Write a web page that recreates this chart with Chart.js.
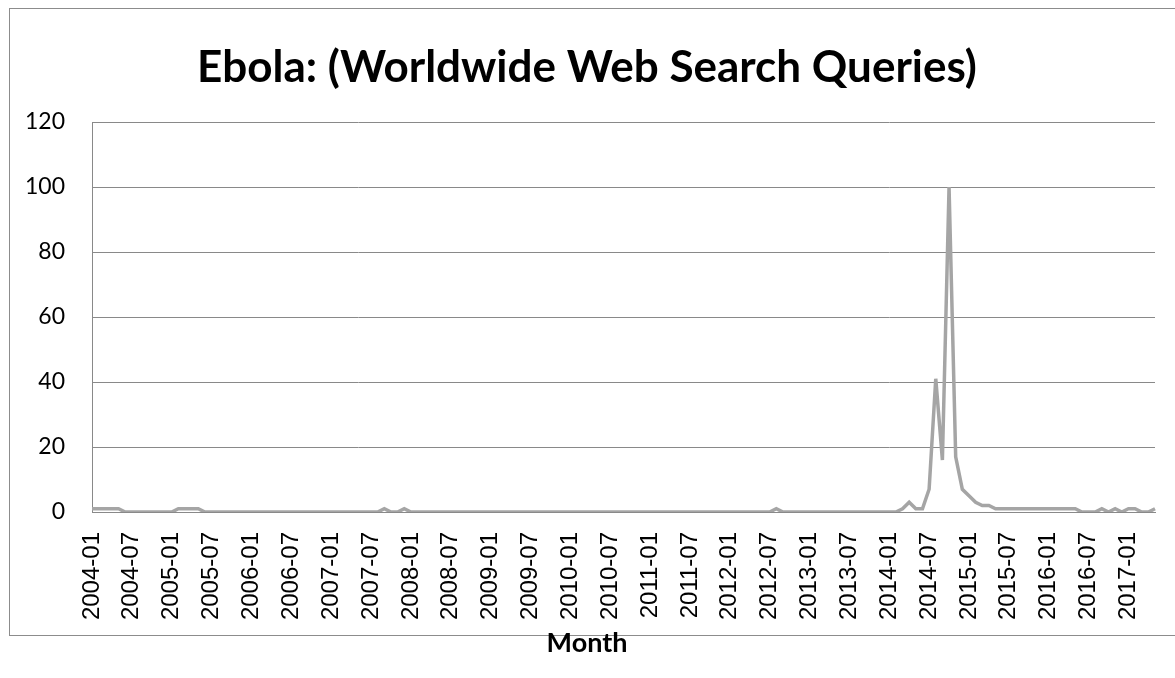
<!DOCTYPE html>
<html>
<head>
<meta charset="utf-8">
<title>Ebola search queries</title>
<script src="https://cdn.jsdelivr.net/npm/chart.js@4.4.1/dist/chart.umd.min.js"></script>
<style>
    html, body { margin: 0; padding: 0; background: #fff; }
    #wrap { width: 1175px; height: 678px; }
</style>
</head>
<body>
<div id="wrap"><canvas id="ebola-chart" width="1175" height="678"></canvas></div>
<script>
// Monthly search interest, 2004-01 .. 2017-05 (one row per year)
const firstYear = 2004;
const interest = [
    1, 1, 1, 1, 1, 0, 0, 0, 0, 0, 0, 0,        // 2004
    0, 1, 1, 1, 1, 0, 0, 0, 0, 0, 0, 0,        // 2005
    0, 0, 0, 0, 0, 0, 0, 0, 0, 0, 0, 0,        // 2006
    0, 0, 0, 0, 0, 0, 0, 0, 1, 0, 0, 1,        // 2007
    0, 0, 0, 0, 0, 0, 0, 0, 0, 0, 0, 0,        // 2008
    0, 0, 0, 0, 0, 0, 0, 0, 0, 0, 0, 0,        // 2009
    0, 0, 0, 0, 0, 0, 0, 0, 0, 0, 0, 0,        // 2010
    0, 0, 0, 0, 0, 0, 0, 0, 0, 0, 0, 0,        // 2011
    0, 0, 0, 0, 0, 0, 0, 1, 0, 0, 0, 0,        // 2012
    0, 0, 0, 0, 0, 0, 0, 0, 0, 0, 0, 0,        // 2013
    0, 0, 1, 3, 1, 1, 7, 41, 16, 100, 17, 7,   // 2014
    5, 3, 2, 2, 1, 1, 1, 1, 1, 1, 1, 1,        // 2015
    1, 1, 1, 1, 1, 0, 0, 0, 1, 0, 1, 0,        // 2016
    1, 1, 0, 0, 1                              // 2017
];
const yTicks = [0, 20, 40, 60, 80, 100, 120];
const labelMonths = ['01', '07'];   // only January and July get a label

// "YYYY-MM" for every data point
const months = interest.map((_, i) => {
    const y = firstYear + Math.floor(i / 12);
    const m = String(i % 12 + 1).padStart(2, '0');
    return `${y}-${m}`;
});

const gridGray = '#898989';

// Outer frame around the chart object
const framePlugin = {
    id: 'frame',
    beforeDraw(chart) {
        const ctx = chart.ctx;
        ctx.save();
        ctx.strokeStyle = '#8c8c8c';
        ctx.lineWidth = 1;
        ctx.strokeRect(9.5, 8.5, 1180, 627);
        ctx.restore();
    }
};

const ctx = document.getElementById('ebola-chart').getContext('2d');
new Chart(ctx, {
    type: 'line',
    data: {
        labels: months,
        datasets: [{
            label: 'Ebola',
            data: interest,
            borderColor: '#a5a5a5',
            borderWidth: 3.5,
            pointRadius: 0,
            tension: 0,
            fill: false
        }]
    },
    options: {
        responsive: false,
        animation: false,
        layout: { padding: { top: 8, left: 14, right: 15, bottom: 0 } },
        plugins: {
            legend: { display: false },
            tooltip: { enabled: false },
            title: {
                display: true,
                text: 'Ebola: (Worldwide Web Search Queries)',
                color: '#000',
                font: { family: 'Lato', size: 44, weight: 'bold', lineHeight: 1.2 },
                padding: { top: 33.6, bottom: 27.6 }
            },
            subtitle: {
                display: true,
                position: 'bottom',
                text: 'Month',
                color: '#000',
                font: { family: 'Lato', size: 27, weight: 'bold', lineHeight: 1.2 },
                padding: { top: 2.8, bottom: 18.8 }
            }
        },
        scales: {
            x: {
                offset: false,
                // fixed height; right padding keeps the plot edge at 1155
                afterFit: (scale) => {
                    scale.height = 112;
                    scale.paddingLeft = 0;
                    scale.paddingRight = 20;
                },
                grid: { display: false, drawTicks: false },
                border: { display: true, color: gridGray, width: 1 },
                ticks: {
                    autoSkip: false,
                    maxRotation: 90,
                    minRotation: 90,
                    padding: 20,
                    color: '#000',
                    font: { family: 'Liberation Sans', size: 24 },
                    callback: function(value, index) {
                        const lbl = this.getLabelForValue(value);
                        return labelMonths.includes(lbl.slice(5)) ? lbl : '';
                    }
                }
            },
            y: {
                min: 0,
                max: 120,
                afterBuildTicks: (scale) => {
                    scale.ticks = yTicks.map(v => ({ value: v }));
                },
                afterFit: (scale) => { scale.width = 78; },
                grid: { color: gridGray, lineWidth: 1, drawTicks: false },
                border: { display: true, color: gridGray, width: 1 },
                ticks: {
                    padding: 27,
                    color: '#000',
                    font: { family: 'Lato', size: 23 }
                }
            }
        }
    },
    plugins: [framePlugin]
});
</script>
</body>
</html>
